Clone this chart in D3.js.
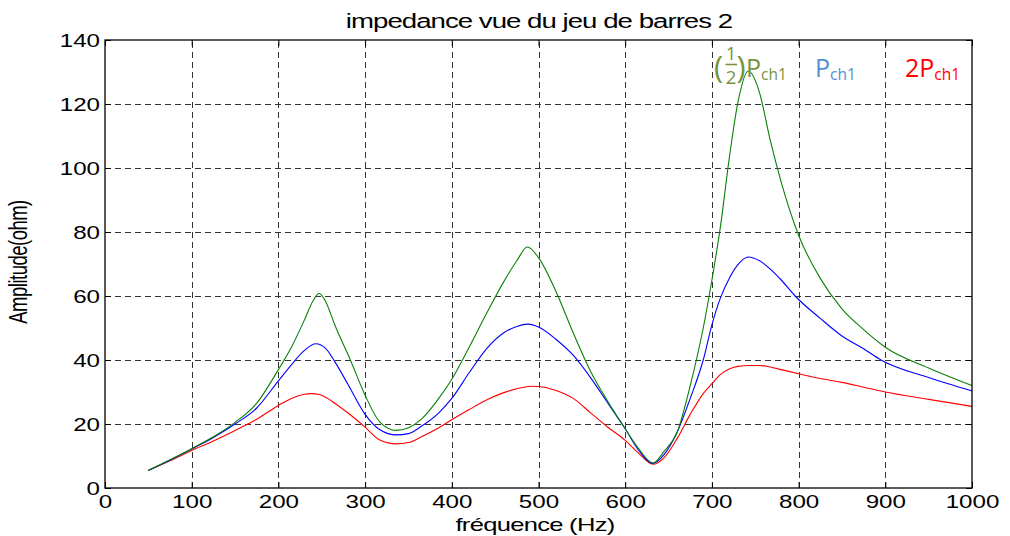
<!DOCTYPE html>
<html>
<head>
<meta charset="utf-8">
<script src="https://cdn.jsdelivr.net/npm/d3@7"></script>
<style>
  html, body { margin: 0; padding: 0; background: #fff; }
  svg { display: block; }
  text { font-family: "Liberation Sans", Arial, Helvetica, sans-serif; }
  .legend text { font-family: "Open Sans", "Noto Sans", sans-serif; }
</style>
</head>
<body>
<svg id="chart" width="1010" height="536"></svg>
<script>
// Impedance magnitude seen from busbar 2, for three load levels.

const xTickValues = [0, 100, 200, 300, 400, 500, 600, 700, 800, 900, 1000];
const yTickValues = [0, 20, 40, 60, 80, 100, 120, 140];

// Half load (1/2 Pch1)
const freqHalf = [50, 75, 100, 125, 150, 175, 200, 215, 230, 240, 247, 255, 265, 283, 300, 317, 336, 350, 365, 385, 400, 420, 440, 460, 475, 487, 500, 520, 540, 560, 580, 600, 615, 632, 645, 660, 675, 690, 700, 710, 720, 730, 742, 755, 767, 780, 800, 825, 850, 875, 900, 950, 1000];
const ampHalf  = [5.5, 8.8, 12.3, 16, 20.5, 26.5, 37, 44, 52.5, 58.5, 60.8, 58, 51, 40, 29, 20.6, 18, 18.8, 21.5, 28, 34, 44, 54.5, 64.5, 71, 75.3, 72, 61.5, 48.5, 36.5, 27, 18.5, 12.5, 7.8, 11.5, 17.5, 32, 50, 65, 82, 103, 120.5, 130.3, 123.5, 109, 95.5, 79, 65.5, 56, 49.5, 44, 37.5, 32];

// Nominal load (Pch1)
const freqNom = [50, 75, 100, 125, 150, 175, 200, 215, 230, 243, 255, 265, 280, 300, 317, 336, 350, 365, 385, 400, 420, 440, 460, 475, 488, 500, 520, 540, 560, 580, 600, 615, 632, 645, 660, 675, 690, 700, 710, 720, 730, 742, 755, 767, 780, 796, 825, 850, 875, 895, 950, 1000];
const ampNom  = [5.5, 8.7, 12.2, 15.8, 20, 25, 33.5, 38.5, 43, 45.1, 43.5, 39.5, 32.5, 23, 18.2, 16.6, 17, 19.3, 23.5, 28, 36, 43.5, 48.5, 50.5, 51.2, 50.3, 46.5, 41.5, 34.5, 26.5, 18.5, 12, 7.7, 10.5, 17.5, 28, 40, 51, 59.5, 65.5, 69.8, 72.2, 71, 68.5, 65, 60, 53, 47.5, 43.5, 40, 34.5, 30.3];

// Double load (2 Pch1)
const freqDouble = [50, 75, 100, 125, 150, 175, 200, 215, 230, 238, 247, 255, 265, 280, 300, 317, 336, 350, 365, 385, 400, 420, 440, 460, 475, 492, 500, 520, 540, 560, 580, 600, 615, 632, 645, 660, 675, 690, 700, 710, 720, 730, 742, 755, 767, 780, 800, 825, 850, 875, 900, 950, 1000];
const ampDouble  = [5.5, 8.5, 11.7, 14.7, 18, 21.5, 25.8, 28, 29.3, 29.5, 29.2, 28.3, 26.5, 23.5, 19, 15, 13.8, 14.2, 16, 18.8, 21.3, 24.5, 27.5, 29.8, 31, 31.8, 31.7, 30.5, 28, 23.5, 19, 14.9, 11, 7.4, 9.5, 15.5, 23, 29.5, 32.6, 35.5, 37.2, 38, 38.3, 38.3, 37.8, 37, 35.7, 34.2, 33, 31.5, 30, 27.7, 25.5];

const svg = d3.select("#chart");
const W = 1010, H = 536;
const plot = { left: 105, right: 972, top: 40, bottom: 488 };
const sx = 1.38;   // horizontal stretch of the lettering

const x = d3.scaleLinear().domain([0, 1000]).range([plot.left, plot.right]);
const y = d3.scaleLinear().domain([0, 140]).range([plot.bottom, plot.top]);

svg.append("rect").attr("width", W).attr("height", H).attr("fill", "#fff");

// dashed grid
const grid = svg.append("g").attr("stroke", "#333").attr("stroke-width", 1)
  .attr("stroke-dasharray", "6,4").attr("fill", "none");
grid.selectAll("line.v").data(xTickValues.slice(1, -1)).join("line")
  .attr("x1", d => Math.round(x(d)) + 0.5).attr("x2", d => Math.round(x(d)) + 0.5)
  .attr("y1", plot.bottom).attr("y2", plot.top);
grid.selectAll("line.h").data(yTickValues.slice(1, -1)).join("line")
  .attr("y1", d => Math.round(y(d)) + 0.5).attr("y2", d => Math.round(y(d)) + 0.5)
  .attr("x1", plot.left).attr("x2", plot.right);

// curves
const line = d3.line().x(d => x(d[0])).y(d => y(d[1])).curve(d3.curveMonotoneX);
const series = [
  { f: freqDouble, a: ampDouble, color: "#ff0000" },
  { f: freqNom,    a: ampNom,    color: "#0000ff" },
  { f: freqHalf,   a: ampHalf,   color: "#0a800a" }
];
svg.append("g").selectAll("path").data(series).join("path")
  .attr("fill", "none").attr("stroke", d => d.color).attr("stroke-width", 1.1)
  .attr("d", d => line(d.f.map((v, i) => [v, d.a[i]])));

// axes (ticks pointing inward)
const fontTick = 17.5;
const xAxis = svg.append("g").attr("transform", `translate(0,${plot.bottom})`)
  .call(d3.axisBottom(x).tickValues(xTickValues).tickSize(-6).tickFormat(d3.format("d")));
xAxis.selectAll("text").attr("y", 20).attr("dy", null)
  .attr("transform", `scale(${sx},1)`)
  .style("font-size", fontTick + "px").style("fill", "#000")
  .style("font-family", '"Liberation Sans", Arial, sans-serif');

const yAxis = svg.append("g").attr("transform", `translate(${plot.left},0)`)
  .call(d3.axisLeft(y).tickValues(yTickValues).tickSize(-6).tickFormat(d3.format("d")));
yAxis.selectAll("text").attr("x", -5 / sx).attr("dy", "0.36em")
  .attr("transform", `scale(${sx},1)`)
  .style("font-size", fontTick + "px").style("fill", "#000")
  .style("font-family", '"Liberation Sans", Arial, sans-serif');

svg.append("g").attr("transform", `translate(0,${plot.top})`)
  .call(d3.axisTop(x).tickValues(xTickValues).tickSize(-6).tickFormat(""));
svg.append("g").attr("transform", `translate(${plot.right},0)`)
  .call(d3.axisRight(y).tickValues(yTickValues).tickSize(-6).tickFormat(""));

svg.selectAll(".domain").remove();
svg.selectAll(".tick line").attr("stroke", "#000");

// frame
svg.append("rect")
  .attr("x", plot.left).attr("y", plot.top)
  .attr("width", plot.right - plot.left).attr("height", plot.bottom - plot.top)
  .attr("fill", "none").attr("stroke", "#000").attr("stroke-width", 1.3);

// title and axis labels
svg.append("text").attr("transform", `translate(539,28) scale(${sx},1)`)
  .attr("text-anchor", "middle").style("font-size", "20px").style("letter-spacing", "-0.7px")
  .style("fill", "#000").text("impedance vue du jeu de barres 2");
svg.append("text").attr("transform", `translate(535,531) scale(${sx},1)`)
  .attr("text-anchor", "middle").style("font-size", "18.5px").style("letter-spacing", "-0.5px")
  .style("fill", "#000").text("fréquence (Hz)");
svg.append("text").attr("transform", `translate(27,262) scale(${sx},1) rotate(-90)`)
  .attr("text-anchor", "middle").style("font-size", "18.5px").style("letter-spacing", "-0.5px")
  .style("fill", "#000").text("Amplitude(ohm)");

// legend labels
const lg = svg.append("g").attr("class", "legend");
const olive = "#77933c", lblue = "#558ed5", red = "#ff0000";

const half = lg.append("g");
half.append("text").attr("x", 714).attr("y", 78).style("font-size", "31px").style("fill", olive).text("(");
half.append("text").attr("x", 731).attr("y", 60).attr("text-anchor", "middle").style("font-size", "18.5px").style("fill", olive).text("1");
half.append("line").attr("x1", 725.5).attr("x2", 737).attr("y1", 64.5).attr("y2", 64.5)
  .attr("stroke", olive).attr("stroke-width", 1.6);
half.append("text").attr("x", 731).attr("y", 84).attr("text-anchor", "middle").style("font-size", "18.5px").style("fill", olive).text("2");
half.append("text").attr("x", 736.5).attr("y", 78).style("font-size", "31px").style("fill", olive).text(")");
const halfP = half.append("text").attr("x", 746).attr("y", 77).style("fill", olive);
halfP.append("tspan").style("font-size", "25px").text("P");
halfP.append("tspan").style("font-size", "15.5px").attr("dy", 3).text("ch1");

const nomP = lg.append("text").attr("x", 815).attr("y", 77).style("fill", lblue);
nomP.append("tspan").style("font-size", "25px").text("P");
nomP.append("tspan").style("font-size", "15.5px").attr("dy", 3).text("ch1");

const dblP = lg.append("text").attr("x", 905).attr("y", 77).style("fill", red);
dblP.append("tspan").style("font-size", "25px").text("2P");
dblP.append("tspan").style("font-size", "15.5px").attr("dy", 3).text("ch1");
</script>
</body>
</html>
